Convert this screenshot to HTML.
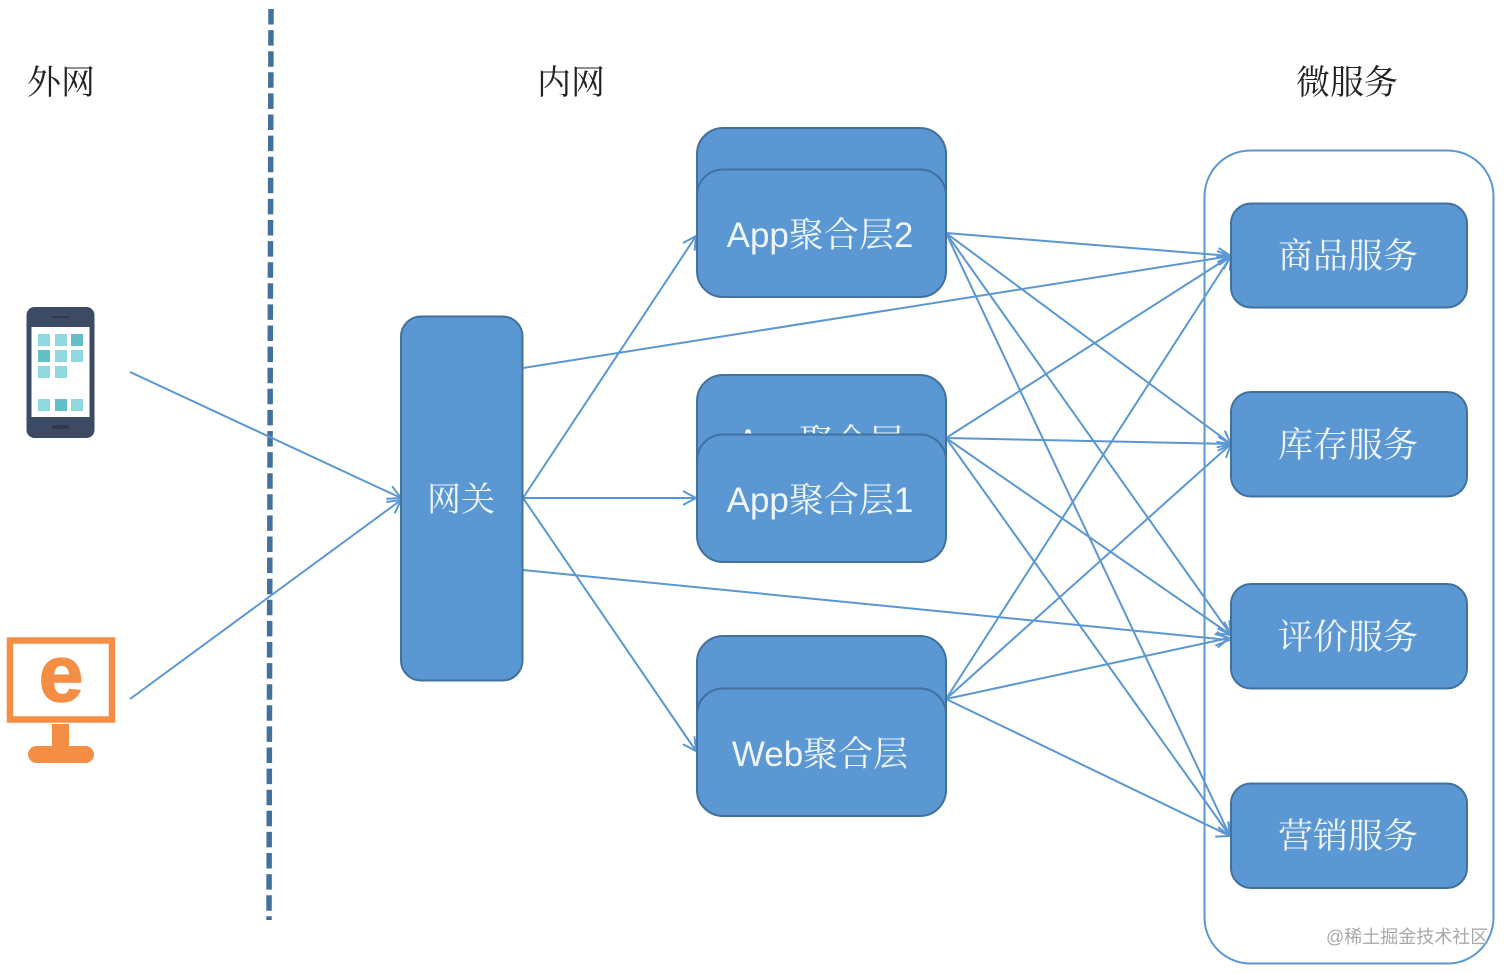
<!DOCTYPE html>
<html><head><meta charset="utf-8"><style>
html,body{margin:0;padding:0;background:#fff}
svg{display:block}
.h{font-family:"Liberation Serif","Noto Serif CJK SC",serif;font-size:34px;fill:#222}
.s{font-family:"Liberation Serif","Noto Serif CJK SC",serif;font-size:35px;fill:#eef5fb;text-anchor:middle}
.a{font-family:"Liberation Sans","Noto Serif CJK SC",sans-serif;font-size:35px;fill:#eef5fb;text-anchor:middle}
.b{fill:#5b97d3;stroke:#41719c;stroke-width:2}
.l line{stroke:#5b97d3;stroke-width:2;marker-end:url(#m)}
</style></head><body>
<svg width="1512" height="973" viewBox="0 0 1512 973" xmlns="http://www.w3.org/2000/svg">
<defs><marker id="m" markerUnits="userSpaceOnUse" markerWidth="20" markerHeight="20" refX="14" refY="8" orient="auto"><path d="M1 1L14 8L1 15" fill="none" stroke="#5b97d3" stroke-width="2"/></marker></defs>
<rect width="1512" height="973" fill="#fff"/>
<line x1="271" y1="9" x2="269" y2="920" stroke="#41719c" stroke-width="5.5" stroke-dasharray="15.5 5.6"/>
<text class="h" x="27" y="94">外网</text>
<text class="h" x="537" y="94">内网</text>
<text class="h" x="1296" y="94">微服务</text>
<rect x="1204.500" y="150.500" width="289" height="813" rx="46" fill="#fff" stroke="#5b97d3" stroke-width="2"/>
<!-- phone -->
<rect x="26.500" y="307" width="68" height="131" rx="8" fill="#3d4a63"/>
<rect x="31.500" y="327" width="58" height="90" fill="#fff"/>
<rect x="52" y="316" width="17" height="2" fill="#2f3a4e"/><rect x="52" y="425" width="17" height="4" rx="2" fill="#2f3a4e"/>
<g fill="#8fd8de"><rect x="38" y="334" width="12" height="12"/><rect x="55" y="334" width="12" height="12"/><rect x="71" y="334" width="12" height="12" fill="#62bfc6"/><rect x="38" y="350" width="12" height="12" fill="#62bfc6"/><rect x="55" y="350" width="12" height="12"/><rect x="71" y="350" width="12" height="12"/><rect x="38" y="366" width="12" height="12"/><rect x="55" y="366" width="12" height="12"/><rect x="38" y="399" width="12" height="12"/><rect x="55" y="399" width="12" height="12" fill="#62bfc6"/><rect x="71" y="399" width="12" height="12"/></g>
<!-- ie -->
<rect x="10" y="640.500" width="102" height="79" fill="#fff" stroke="#f58e45" stroke-width="6.500"/>
<text x="61" y="701" font-family="'Liberation Sans',sans-serif" font-weight="700" font-size="80" fill="#f58e45" stroke="#f58e45" stroke-width="1.5" text-anchor="middle">e</text>
<rect x="52" y="724" width="17" height="24" fill="#f58e45"/>
<rect x="28" y="746" width="66" height="17" rx="8.500" fill="#f58e45"/>
<!-- connectors -->
<g class="l">
<line x1="130" y1="372" x2="401" y2="498"/>
<line x1="130" y1="699" x2="401" y2="500"/>
<line x1="523" y1="368" x2="1231" y2="256"/>
<line x1="523" y1="498" x2="696" y2="236"/>
<line x1="523" y1="498" x2="696" y2="498"/>
<line x1="523" y1="498" x2="696" y2="751"/>
<line x1="523" y1="570" x2="1229" y2="640"/>
<line x1="946" y1="233" x2="1231" y2="256"/>
<line x1="946" y1="233" x2="1231" y2="444"/>
<line x1="946" y1="233" x2="1231" y2="635"/>
<line x1="946" y1="233" x2="1230" y2="836"/>
<line x1="946" y1="438" x2="1231" y2="256"/>
<line x1="946" y1="438" x2="1231" y2="444"/>
<line x1="946" y1="438" x2="1231" y2="635"/>
<line x1="946" y1="438" x2="1230" y2="836"/>
<line x1="946" y1="699" x2="1231" y2="256"/>
<line x1="946" y1="699" x2="1231" y2="444"/>
<line x1="946" y1="699" x2="1229" y2="638"/>
<line x1="946" y1="699" x2="1230" y2="836"/>
</g>
<rect class="b" x="401" y="316.500" width="121.500" height="364" rx="20"/>
<text class="s" x="461" y="511" style="font-size:34px">网关</text>
<rect class="b" x="697" y="128" width="249" height="128" rx="26"/>
<rect class="b" x="697" y="169.500" width="249" height="127.500" rx="26"/>
<text class="a" x="820" y="247">App聚合层2</text>
<rect class="b" x="697" y="375" width="249" height="128" rx="26"/>
<text class="a" x="820" y="454">App聚合层</text>
<rect class="b" x="697" y="434.500" width="249" height="127.500" rx="26"/>
<text class="a" x="820" y="512">App聚合层1</text>
<rect class="b" x="697" y="636" width="249" height="128" rx="26"/>
<text class="a" x="820" y="718">Web聚合层</text>
<rect class="b" x="697" y="688.500" width="249" height="127.500" rx="26"/>
<text class="a" x="820" y="766">Web聚合层</text>
<rect class="b" x="1231" y="203.500" width="236" height="104" rx="20"/>
<text class="s" x="1348" y="268">商品服务</text>
<rect class="b" x="1231" y="392" width="236" height="104.500" rx="20"/>
<text class="s" x="1348" y="457">库存服务</text>
<rect class="b" x="1231" y="584" width="236" height="104.500" rx="20"/>
<text class="s" x="1348" y="649">评价服务</text>
<rect class="b" x="1231" y="783.500" width="236" height="104.500" rx="20"/>
<text class="s" x="1348" y="848">营销服务</text>
<text x="1326" y="943" font-family="'Liberation Sans','Noto Sans CJK SC',sans-serif" font-size="18" fill="#a8a8a8">@稀土掘金技术社区</text>
</svg>
</body></html>
